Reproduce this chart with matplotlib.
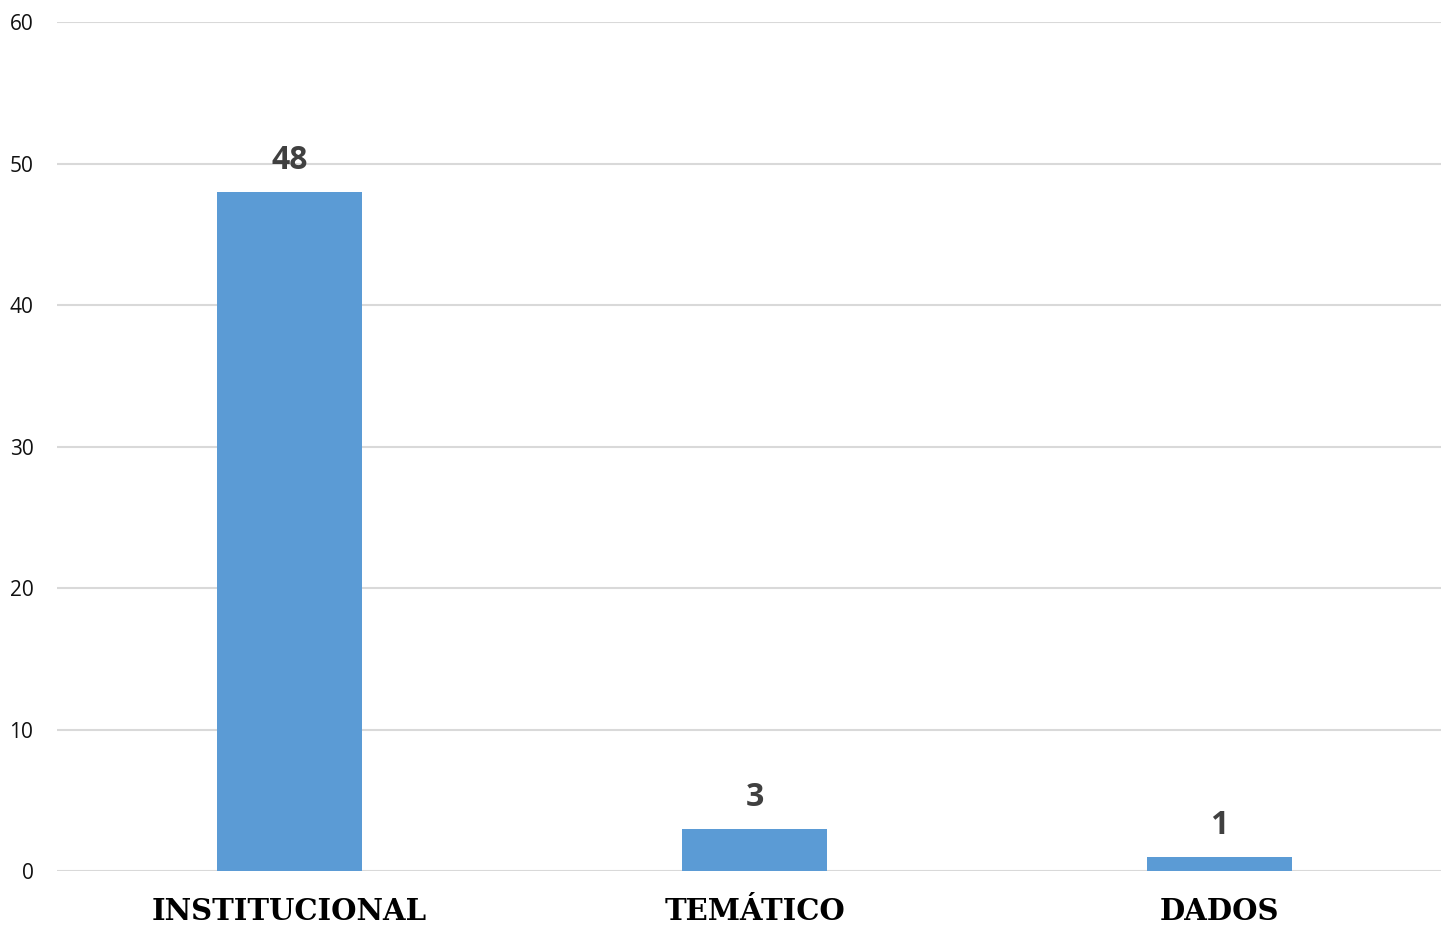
import matplotlib
matplotlib.use("Agg")
import matplotlib.pyplot as plt

categories = ["INSTITUCIONAL", "TEMÁTICO", "DADOS"]
values = [48, 3, 1]
yticks = [0, 10, 20, 30, 40, 50, 60]

W, H = 1441, 926
fig = plt.figure(figsize=(W / 100, H / 100), dpi=100)
ax = fig.add_axes([57 / W, 1 - 871 / H, (1452 - 57) / W, (871 - 22) / H])

x = list(range(len(categories)))
bars = ax.bar(x, values, width=145 / 465, color="#5B9BD5", zorder=3)
ax.set_xlim(-0.5, len(categories) - 0.5)
ax.set_ylim(0, 60)
ax.set_yticks(yticks)
ax.set_yticklabels([str(t) for t in yticks], family="Open Sans", fontsize=15, color="#111111")
ax.tick_params(axis="y", length=0, pad=17)
ax.tick_params(axis="x", length=0, pad=19)
ax.set_xticks(x)
ax.set_xticklabels(categories, family="DejaVu Serif", fontweight="bold", fontsize=21, color="black")
ax.grid(axis="y", color="#D9D9D9", linewidth=1.5, zorder=0)
for s in ax.spines.values():
    s.set_visible(False)

for xi, v in zip(x, values):
    ax.annotate(str(v), (xi, v), xytext=(0, 15), textcoords="offset pixels",
                ha="center", va="bottom", family="Open Sans", fontweight="bold",
                fontsize=23, color="#404040")

fig.savefig("out.png", dpi=100)
